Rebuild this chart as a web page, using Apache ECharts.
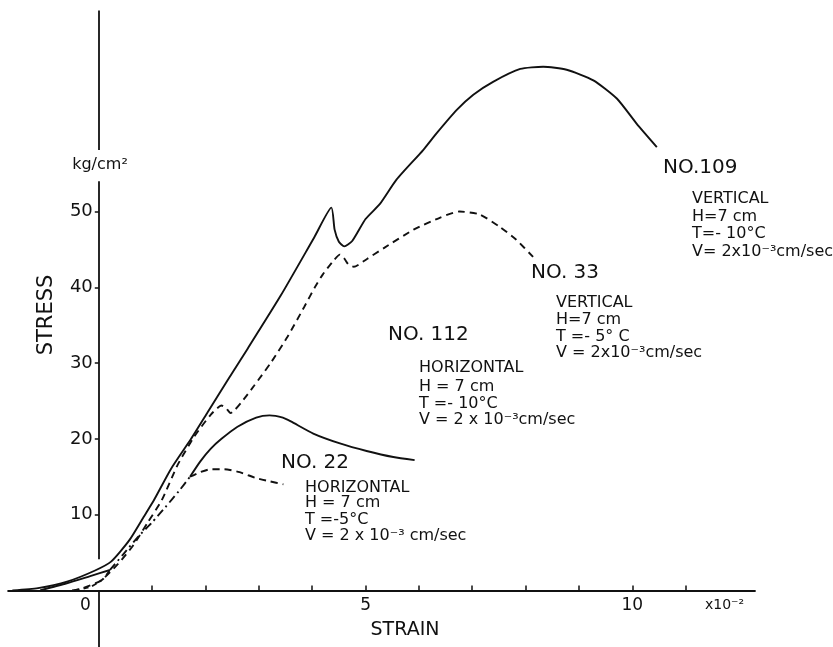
<!DOCTYPE html>
<html>
<head>
<meta charset="utf-8">
<script src="https://cdn.jsdelivr.net/npm/echarts@6/dist/echarts.min.js"></script>
<style>
html,body{margin:0;padding:0;background:#fff;}
#chart{width:833px;height:647px;}
</style>
</head>
<body>
<div id="chart"></div>
<script>
// ---- axis values ----
const strainTicks = [1, 2, 3, 4, 5, 6, 7, 8, 9, 10, 11];
const strainLabels = [0, 5, 10];
const stressTicks = [10, 20, 30, 40, 50];

// ---- curves (strain x10^-2, stress kg/cm2) ----
const no109 = [[-1.62,0],[-1.14,0.3],[-0.58,1.2],[-0.08,2.6],[0.23,3.8],[0.57,6.6],[0.85,9.8],[1.04,12.0],[1.35,16.0],[1.73,20.0],[2.04,23.5],[2.42,27.8],[2.79,31.9],[3.41,38.9],[4.04,46.6],[4.36,50.5],[4.42,47.6],[4.5,46.0],[4.6,45.4],[4.75,46.1],[5.0,49.0],[5.27,51.0],[5.58,54.2],[6.08,58.1],[6.33,60.3],[6.71,63.4],[7.02,65.4],[7.39,67.1],[7.9,68.8],[8.33,69.1],[8.77,68.7],[9.27,67.3],[9.71,64.9],[10.08,61.6],[10.46,58.5]];
const no33 = [[-0.5,0],[-0.3,0.3],[0.04,1.3],[0.36,3.5],[0.64,5.9],[0.92,9.0],[1.18,11.9],[1.48,16.6],[1.79,20.3],[2.1,23.2],[2.3,24.4],[2.38,24.1],[2.47,23.4],[2.56,23.9],[2.66,24.7],[2.91,27.0],[3.23,30.1],[3.54,33.5],[3.85,37.4],[4.05,40.0],[4.2,41.7],[4.41,43.6],[4.52,44.3],[4.6,43.8],[4.68,43.0],[4.78,42.7],[5.02,43.7],[5.35,45.2],[5.9,47.6],[6.4,49.2],[6.76,50.0],[7.14,49.6],[7.51,48.0],[7.82,46.3],[8.14,44.0]];
const no112Start = [[-1.1,0],[-0.6,0.95],[-0.16,1.9],[0.21,2.7]];
const no22Start = [[-0.45,0],[-0.15,0.5],[0.08,1.5],[0.21,2.7]];
const commonInitial = [[0.21,2.7],[0.45,4.7],[0.74,7.1],[1.0,9.0],[1.25,11.0],[1.5,13.1],[1.71,15.0]];
const no112 = [[1.71,15.0],[1.9,17.0],[2.1,18.7],[2.3,20.0],[2.6,21.6],[2.95,22.8],[3.2,23.1],[3.45,22.8],[3.6,22.3],[4.02,20.7],[4.52,19.4],[5.02,18.4],[5.52,17.6],[5.92,17.2]];
const no22 = [[1.71,15.0],[1.9,15.6],[2.1,16.0],[2.35,16.0],[2.64,15.6],[2.96,14.8],[3.2,14.4],[3.46,14.0]];
// vertical axis line pieces (broken by the unit label and near the origin)
const yAxisPieces = [[[0,-7.5],[0,0]],[[0,4.1],[0,54.0]],[[0,58.1],[0,76.5]]];

const FONT = 'DejaVu Sans';
const INK = '#111';

// layout of the plotting area
const X_MIN = -1.7, X_MAX = 12.3, Y_MIN = -7.5, Y_MAX = 76.5;
const G_LEFT = 8.1, G_TOP = 10.6, G_W = 746.9, G_H = 636.7;
const X0_PX = G_LEFT + (0 - X_MIN) / (X_MAX - X_MIN) * G_W;       // pixel of strain 0
const Y0_PX = G_TOP + (Y_MAX - 0) / (Y_MAX - Y_MIN) * G_H;        // pixel of stress 0

const chart = echarts.init(document.getElementById('chart'), null, {renderer:'canvas'});

function txt(text, x, y, size, align) {
  return {
    type: 'text', z: 100,
    style: { text: text, x: x, y: y, fill: INK, font: size + 'px "' + FONT + '"',
             textAlign: align || 'left', textVerticalAlign: 'middle' }
  };
}
function block(lines, x, ys, size) {
  return lines.map((l, i) => txt(l, x, ys[i], size));
}

const lineBase = (name, data, type) => ({
  name: name, type: 'line', data: data, symbol: 'none', smooth: 0.2,
  lineStyle: { color: INK, width: 1.9, type: type || 'solid' },
  silent: true, z: 5
});

const stressTitle = txt('STRESS', 0, 0, 21, 'center');
stressTitle.x = 47; stressTitle.y = 315; stressTitle.rotation = Math.PI / 2;

const option = {
  animation: false,
  backgroundColor: '#fff',
  grid: { left: G_LEFT, top: G_TOP, width: G_W, height: G_H, containLabel: false, outerBoundsMode: 'none' },
  xAxis: {
    type: 'value', min: X_MIN, max: X_MAX, position: 'bottom',
    offset: -((G_TOP + G_H) - Y0_PX),
    axisLine: { show: true, onZero: false, lineStyle: { color: INK, width: 1.8 } },
    axisTick: { show: true, inside: true, length: 5, customValues: strainTicks, lineStyle: { color: INK, width: 1.5 } },
    axisLabel: {
      show: true, customValues: strainLabels, margin: 7, hideOverlap: false,
      color: INK, fontFamily: FONT, fontSize: 17,
      formatter: v => v === 0 ? '{z|0}' : String(v),
      rich: { z: { fontFamily: FONT, fontSize: 17, color: INK, padding: [0, 27, 0, 0] } }
    },
    splitLine: { show: false }
  },
  yAxis: {
    type: 'value', min: Y_MIN, max: Y_MAX, position: 'left',
    offset: -(X0_PX - G_LEFT),
    axisLine: { show: false, onZero: false },
    axisTick: { show: true, inside: false, length: 4, customValues: stressTicks, lineStyle: { color: INK, width: 1.5 } },
    axisLabel: { show: true, customValues: stressTicks, margin: 6, color: INK, fontFamily: FONT, fontSize: 18, hideOverlap: false },
    splitLine: { show: false }
  },
  series: [
    {
      name: 'stress axis', type: 'lines', coordinateSystem: 'cartesian2d', silent: true,
      data: yAxisPieces.map(c => ({ coords: c })),
      lineStyle: { color: INK, width: 1.8, opacity: 1 }, symbol: 'none', z: 4
    },
    lineBase('NO.109', no109, 'solid'),
    lineBase('NO.33', no33, [7, 5]),
    lineBase('NO.112 start', no112Start, 'solid'),
    lineBase('NO.22 start', no22Start, [5, 4]),
    lineBase('NO.112 / NO.22', commonInitial, [8, 4, 2, 4]),
    lineBase('NO.112', no112, 'solid'),
    lineBase('NO.22', no22, [7, 5])
  ],
  graphic: [
    txt('kg/cm²', 100, 165, 16, 'center'),
    stressTitle,
    txt('STRAIN', 405, 630, 19, 'center'),
    txt('x10⁻²', 705, 605, 14),
    txt('NO.109', 663, 168, 20),
    ...block(['VERTICAL', 'H=7 cm', 'T=- 10°C', 'V= 2x10⁻³cm/sec'], 692, [199.3, 216.7, 234.3, 251.7], 16),
    txt('NO. 33', 531, 273, 20),
    ...block(['VERTICAL', 'H=7 cm', 'T =- 5° C', 'V = 2x10⁻³cm/sec'], 556, [303.3, 320, 336.7, 353.3], 16),
    txt('NO. 112', 388, 335, 20),
    ...block(['HORIZONTAL', 'H = 7 cm', 'T =- 10°C', 'V = 2 x 10⁻³cm/sec'], 419, [368.3, 387.3, 404.3, 420], 16),
    txt('NO. 22', 281, 463, 20),
    ...block(['HORIZONTAL', 'H = 7 cm', 'T =-5°C', 'V = 2 x 10⁻³ cm/sec'], 305, [487.7, 503.3, 520, 536], 16)
  ]
};

chart.setOption(option);
</script>
</body>
</html>
